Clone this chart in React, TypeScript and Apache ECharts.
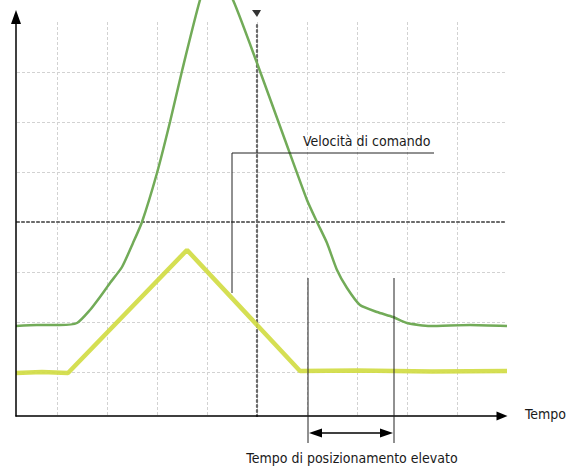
import React, { useEffect, useRef } from "react";
import * as echarts from "echarts";

// Time in screen divisions (0 = centre line), level in divisions (0 = centre line)
const greenTime = [-4.82, -4.4, -3.94, -3.6, -3.34, -3.14, -2.94, -2.7, -2.48, -2.3, -2.0, -1.74, -1.5, -1.14, -0.88, -0.48, 0.0, 0.56, 1.0, 1.2, 1.4, 1.6, 1.8, 2.06, 2.4, 2.72, 3.0, 3.46, 4.26, 5.0];
const greenLevel = [-2.08, -2.06, -2.06, -2.02, -1.76, -1.5, -1.22, -0.9, -0.42, 0.0, 0.98, 2.0, 3.02, 4.44, 5.14, 4.44, 3.18, 1.64, 0.44, 0.0, -0.42, -0.96, -1.32, -1.66, -1.8, -1.9, -2.02, -2.08, -2.06, -2.08];
const yellowTime = [-4.82, -4.3, -3.78, -1.4, 0.86, 2.0, 3.5, 5.0];
const yellowLevel = [-3.02, -3.0, -3.02, -0.56, -2.98, -2.97, -2.99, -2.98];

const xAxisLabel = "Tempo";
const commandLabel = "Velocità di comando";
const settleLabel = "Tempo di posizionamento elevato";

const FONT = "'DejaVu Sans Condensed', 'DejaVu Sans', sans-serif";

export default function App() {
  const ref = useRef<HTMLDivElement>(null);
  useEffect(() => {
    if (!ref.current) return;
    const chart = echarts.init(ref.current, undefined, { renderer: "svg" });
    const gridAxisCommon = {
      type: "value" as const,
      interval: 1,
      axisLabel: { show: false },
      axisTick: { show: false },
      axisLine: { show: true, onZero: true, lineStyle: { color: "#6a6a6a", width: 2.2, type: [2, 3] as any } },
      splitLine: { show: true, showMinLine: false, showMaxLine: false, lineStyle: { color: "#d2d2d2", width: 1, type: [3, 2] as any } },
    };
    const frameAxis = {
      type: "value" as const,
      min: 0,
      max: 1,
      axisLabel: { show: false },
      axisTick: { show: false },
      splitLine: { show: false },
      z: 10,
    };
    chart.setOption({
      animation: false,
      backgroundColor: "#fff",
      grid: [
        { left: 7, top: 22, width: 500, height: 400 },
        { left: 16, top: 17, width: 486, height: 399 },
      ],
      xAxis: [
        { ...gridAxisCommon, gridIndex: 0, min: -5, max: 5 },
        {
          ...frameAxis,
          gridIndex: 1,
          position: "bottom",
          axisLine: { show: true, onZero: false, symbol: ["none", "triangle"], symbolSize: [9, 11], lineStyle: { color: "#000", width: 1.5 } },
        },
      ],
      yAxis: [
        { ...gridAxisCommon, gridIndex: 0, min: -4, max: 4 },
        {
          ...frameAxis,
          gridIndex: 1,
          position: "left",
          axisLine: { show: true, onZero: false, symbol: ["none", "triangle"], symbolSize: [10, 14], lineStyle: { color: "#000", width: 1.5 } },
        },
      ],
      series: [
        {
          type: "line",
          xAxisIndex: 0,
          yAxisIndex: 0,
          data: yellowTime.map((t, i) => [t, yellowLevel[i]]),
          showSymbol: false,
          clip: false,
          lineStyle: { color: "#d0dc40", width: 4.5, opacity: 0.9 },
          z: 3,
        },
        {
          type: "line",
          xAxisIndex: 0,
          yAxisIndex: 0,
          data: greenTime.map((t, i) => [t, greenLevel[i]]),
          showSymbol: false,
          clip: false,
          smooth: 0.2,
          lineStyle: { color: "#72ab58", width: 2.5 },
          z: 4,
        },
      ],
      graphic: [
        { type: "rect", z: 5, shape: { x: 0, y: 0, width: 15.3, height: 440 }, style: { fill: "#fff" } },
        { type: "rect", z: 5, shape: { x: 16, y: 417, width: 500, height: 8 }, style: { fill: "#fff" } },
        { type: "polygon", z: 20, shape: { points: [[252, 10], [261, 10], [257, 17]] }, style: { fill: "#333" } },
        { type: "polyline", z: 20, shape: { points: [[232, 293], [232, 153], [434, 153]] }, style: { stroke: "#222", lineWidth: 1, fill: null } },
        { type: "line", z: 20, shape: { x1: 308, y1: 278, x2: 308, y2: 443 }, style: { stroke: "#222", lineWidth: 1 } },
        { type: "line", z: 20, shape: { x1: 394, y1: 278, x2: 394, y2: 443 }, style: { stroke: "#222", lineWidth: 1 } },
        { type: "line", z: 20, shape: { x1: 318, y1: 433, x2: 384, y2: 433 }, style: { stroke: "#000", lineWidth: 1.5 } },
        { type: "polygon", z: 20, shape: { points: [[309, 433], [322, 428.5], [322, 437.5]] }, style: { fill: "#000" } },
        { type: "polygon", z: 20, shape: { points: [[393, 433], [380, 428.5], [380, 437.5]] }, style: { fill: "#000" } },
        { type: "text", z: 20, x: 303, y: 141, style: { text: commandLabel, font: `14px ${FONT}`, fill: "#1a1a1a", verticalAlign: "middle", align: "left" } },
        { type: "text", z: 20, x: 525, y: 414, style: { text: xAxisLabel, font: `14px ${FONT}`, fill: "#1a1a1a", verticalAlign: "middle", align: "left" } },
        { type: "text", z: 20, x: 352, y: 458, style: { text: settleLabel, font: `14px ${FONT}`, fill: "#1a1a1a", verticalAlign: "middle", align: "center" } },
      ],
    });
    return () => chart.dispose();
  }, []);
  return <div ref={ref} style={{ width: 570, height: 466, position: "absolute", left: 0, top: 0 }} />;
}
